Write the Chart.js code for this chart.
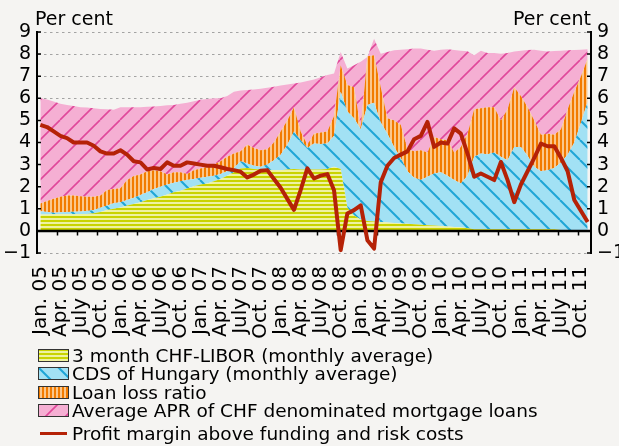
<!DOCTYPE html>
<html>
<head>
<meta charset="utf-8">
<script src="https://cdn.jsdelivr.net/npm/chart.js@4.4.1/dist/chart.umd.min.js"></script>
<style>
  body { margin: 0; background: #f5f4f2; }
  #wrap { position: relative; width: 619px; height: 446px; overflow: hidden;
          font-family: "DejaVu Sans", sans-serif; color: #000; }
  #chart { position: absolute; left: 0; top: 0; }
  .unit { position: absolute; top: 9px; font-size: 19px; line-height: 19px; white-space: nowrap; }
  #legend { position: absolute; left: 38px; top: 346px; font-size: 18.5px; }
  .row { display: flex; align-items: center; height: 18.5px; white-space: nowrap; }
  .row.last { margin-top: 4.5px; }
  .row canvas { margin-right: 3px; }
</style>
</head>
<body>
<div id="wrap">
  <canvas id="chart" width="619" height="340"></canvas>
  <div class="unit" style="left:35px">Per cent</div>
  <div class="unit" style="right:28px">Per cent</div>
  <div id="legend"></div>
</div>
<script>
// Monthly data, Jan. 05 - Nov. 11
const years = ["05", "06", "07", "08", "09", "10", "11"];
const monthNames = ["Jan.", "Feb.", "Mar.", "Apr.", "May", "June", "July", "Aug.", "Sep.", "Oct.", "Nov.", "Dec."];

const libor = [0.74,0.74,0.75,0.75,0.75,0.75,0.76,0.77,0.8,0.85,
  0.95,1.0,1.06,1.15,1.22,1.3,1.4,1.48,1.55,1.65,
  1.75,1.82,1.92,2.02,2.1,2.15,2.25,2.35,2.5,2.65,
  2.82,2.85,2.8,2.78,2.78,2.75,2.75,2.78,2.8,2.78,
  2.78,2.78,2.78,2.8,2.9,2.8,1.05,0.7,0.52,0.45,
  0.42,0.4,0.38,0.36,0.34,0.32,0.3,0.28,0.26,0.24,
  0.22,0.2,0.18,0.16,0.12,0.08,0.08,0.08,0.08,0.08,
  0.08,0.08,0.08,0.08,0.08,0.08,0.07,0.07,0.04,0.01,
  0.01,0.01,0.01];

const cds = [0.15,0.11,0.07,0.09,0.11,0.12,0.12,0.13,0.15,0.2,
  0.2,0.25,0.24,0.25,0.28,0.32,0.35,0.42,0.45,0.45,
  0.43,0.43,0.38,0.33,0.3,0.3,0.25,0.22,0.2,0.2,
  0.33,0.2,0.15,0.12,0.22,0.45,0.7,1.12,1.7,1.32,
  0.97,1.17,1.15,1.15,1.4,3.5,4.35,4.4,4.08,5.25,
  5.38,4.5,4.02,3.44,2.96,2.38,2.1,2.02,2.19,2.36,
  2.43,2.3,2.12,1.99,2.38,3.27,3.42,3.39,3.47,3.27,
  3.12,3.72,3.72,3.32,2.82,2.62,2.68,2.78,3.06,3.44,
  3.99,4.89,5.83];

const lossRatio = [0.35,0.5,0.63,0.7,0.74,0.73,0.69,0.65,0.6,0.55,
  0.7,0.65,0.63,0.9,0.98,0.93,0.95,0.85,0.7,0.45,
  0.47,0.4,0.27,0.4,0.42,0.45,0.5,0.58,0.65,0.65,
  0.45,0.85,0.8,0.75,0.7,0.8,1.05,1.1,1.1,0.4,
  0.15,0.45,0.52,0.55,0.9,1.2,1.2,1.4,0.05,2.2,
  2.15,1.6,0.7,1.2,1.5,1.0,1.2,1.35,1.1,1.65,
  1.5,1.6,1.25,1.65,1.9,2.15,2.05,2.13,2.05,1.65,
  2.3,2.7,2.3,2.2,2.1,1.65,1.65,1.5,1.5,2.05,
  2.3,2.1,1.96];

const apr = [6.0,5.95,5.85,5.75,5.7,5.65,5.6,5.58,5.55,5.52,
  5.5,5.48,5.6,5.6,5.6,5.6,5.62,5.63,5.65,5.68,
  5.7,5.75,5.8,5.87,5.93,5.97,6.0,6.0,6.1,6.3,
  6.35,6.38,6.4,6.43,6.48,6.52,6.58,6.62,6.67,6.72,
  6.78,6.85,6.95,7.05,7.12,8.1,7.35,7.5,7.65,7.87,
  8.7,8.02,8.1,8.17,8.2,8.22,8.25,8.25,8.2,8.15,
  8.2,8.22,8.18,8.15,8.13,7.95,8.15,8.05,8.05,8.02,
  8.05,8.12,8.15,8.18,8.2,8.15,8.12,8.14,8.15,8.17,
  8.18,8.2,8.22];

const margin = [4.8,4.7,4.5,4.3,4.2,4.0,4.0,4.0,3.85,3.6,
  3.5,3.5,3.65,3.45,3.15,3.1,2.78,2.85,2.8,3.1,
  2.95,2.95,3.1,3.05,3.0,2.95,2.95,2.88,2.8,2.75,
  2.68,2.42,2.55,2.72,2.75,2.35,1.95,1.45,0.95,1.85,
  2.83,2.37,2.5,2.57,1.84,-0.87,0.79,0.94,1.16,-0.42,
  -0.8,2.2,2.95,3.3,3.45,3.6,4.15,4.3,4.93,3.8,
  4.0,3.95,4.64,4.4,3.5,2.45,2.6,2.45,2.3,3.12,
  2.3,1.3,2.1,2.7,3.3,3.95,3.83,3.83,3.3,2.7,
  1.4,0.9,0.4];

const seriesNames = [
  "3 month CHF-LIBOR (monthly average)",
  "CDS of Hungary (monthly average)",
  "Loan loss ratio",
  "Average APR of CHF denominated mortgage loans",
  "Profit margin above funding and risk costs"
];

// category labels
const categories = [];
years.forEach(y => monthNames.forEach(m => categories.push(m + " " + y)));
categories.length = libor.length;

const FONT = "'DejaVu Sans', sans-serif";
const RED = "#b52207";

// fill patterns
function makePattern(w, h, draw) {
  const c = document.createElement("canvas");
  c.width = w; c.height = h;
  const g = c.getContext("2d");
  draw(g, w, h);
  return g.createPattern(c, "repeat");
}

const liborFill = makePattern(4, 4, (g) => {
  g.fillStyle = "#eef2a2"; g.fillRect(0, 0, 4, 4);
  g.fillStyle = "#c9d300"; g.fillRect(0, 0, 4, 2);
});
const cdsFill = makePattern(20, 20, (g, s) => {
  g.fillStyle = "#a2e1f4"; g.fillRect(0, 0, s, s);
  g.strokeStyle = "#1ea5d6"; g.lineWidth = 2;
  [-s, 0, s].forEach(x0 => { g.beginPath(); g.moveTo(x0, 0); g.lineTo(x0 + s, s); g.stroke(); });
});
const lossFill = makePattern(4, 4, (g) => {
  g.fillStyle = "#fbc78c"; g.fillRect(0, 0, 4, 4);
  g.fillStyle = "#f27b00"; g.fillRect(0, 0, 2, 4);
});
const aprFill = makePattern(20, 20, (g, s) => {
  g.fillStyle = "#f5afd3"; g.fillRect(0, 0, s, s);
  g.strokeStyle = "#e0489b"; g.lineWidth = 1.6;
  [-s, 0, s].forEach(x0 => { g.beginPath(); g.moveTo(x0, s); g.lineTo(x0 + s, 0); g.stroke(); });
});

// zero line, quarter ticks and inward y ticks
const axisMarks = {
  id: "axisMarks",
  afterDatasetDraw(chart, args) {
    if (args.index !== 0) return;
    const { ctx, chartArea: a, scales } = chart;
    const x = scales.x, y = scales.y;
    const y0 = y.getPixelForValue(0);
    ctx.save();
    ctx.strokeStyle = "#000";
    ctx.lineWidth = 2.5;
    ctx.beginPath(); ctx.moveTo(a.left, y0); ctx.lineTo(a.right, y0); ctx.stroke();
    ctx.lineWidth = 1.5;
    const half = (x.getPixelForValue(1) - x.getPixelForValue(0)) / 2;
    ctx.beginPath();
    for (let i = 3; i < categories.length; i += 3) {
      const px = Math.round(x.getPixelForValue(i) - half) + 0.5;
      ctx.moveTo(px, y0); ctx.lineTo(px, y0 + 4.5);
    }
    for (let v = -1; v <= 9; v++) {
      const py = y.getPixelForValue(v);
      ctx.moveTo(a.left, py); ctx.lineTo(a.left + 4, py);
      ctx.moveTo(a.right, py); ctx.lineTo(a.right - 4, py);
    }
    ctx.stroke();
    ctx.restore();
  }
};

const yTicks = {
  stepSize: 1,
  autoSkip: false,
  padding: 6,
  color: "#000",
  font: { family: FONT, size: 19 },
  callback: v => (v < 0 ? "\u2212" + Math.abs(v) : String(v))
};

new Chart(document.getElementById("chart"), {
  type: "line",
  data: {
    labels: categories,
    datasets: [
      { label: seriesNames[0], data: libor, stack: "cost", fill: "origin",
        backgroundColor: liborFill, borderWidth: 0 },
      { label: seriesNames[1], data: cds, stack: "cost", fill: "-1",
        backgroundColor: cdsFill, borderWidth: 0 },
      { label: seriesNames[2], data: lossRatio, stack: "cost", fill: "-1",
        backgroundColor: lossFill, borderWidth: 0 },
      { label: seriesNames[3], data: apr, stack: "apr", fill: "-1",
        backgroundColor: aprFill, borderWidth: 0 },
      { label: seriesNames[4], data: margin, stack: "margin", fill: false,
        borderColor: RED, borderWidth: 4, borderJoinStyle: "round", order: -1 }
    ]
  },
  options: {
    responsive: false,
    animation: false,
    layout: { padding: { top: 32, left: 0, right: 0, bottom: 0 } },
    elements: { point: { radius: 0 }, line: { tension: 0 } },
    plugins: { legend: { display: false }, tooltip: { enabled: false } },
    scales: {
      x: {
        type: "category",
        offset: true,
        grid: { display: false, offset: true },
        border: { display: false },
        ticks: {
          autoSkip: false, minRotation: 90, maxRotation: 90, padding: 5,
          color: "#000", font: { family: FONT, size: 20 },
          callback: (v, i) => (i % 3 === 0 ? categories[i] : "")
        },
        afterFit: s => { s.height = 87; }
      },
      y: {
        position: "left", min: -1, max: 9, stacked: true,
        ticks: yTicks,
        grid: { color: "#a3a3a3", lineWidth: 1, drawTicks: false },
        border: { color: "#000", width: 2, dash: [2.5, 3.5] },
        afterFit: s => { s.width = 37; }
      },
      y2: {
        position: "right", min: -1, max: 9,
        ticks: yTicks,
        grid: { drawOnChartArea: false, drawTicks: false },
        border: { color: "#000", width: 2 },
        afterFit: s => { s.width = 28; }
      }
    }
  },
  plugins: [axisMarks]
});

// legend
const legendFills = [liborFill, cdsFill, lossFill, aprFill, null];
const legend = document.getElementById("legend");
seriesNames.forEach((name, i) => {
  const row = document.createElement("div");
  row.className = "row" + (i === 4 ? " last" : "");
  const sw = document.createElement("canvas");
  sw.width = 31; sw.height = 13;
  const g = sw.getContext("2d");
  if (legendFills[i]) {
    g.fillStyle = legendFills[i]; g.fillRect(0, 0, 31, 13);
    g.strokeStyle = "#333"; g.lineWidth = 1; g.strokeRect(0.5, 0.5, 30, 12);
  } else {
    g.fillStyle = RED; g.fillRect(2, 5, 27, 3);
  }
  row.appendChild(sw);
  const t = document.createElement("span");
  t.textContent = name;
  row.appendChild(t);
  legend.appendChild(row);
});
</script>
</body>
</html>
